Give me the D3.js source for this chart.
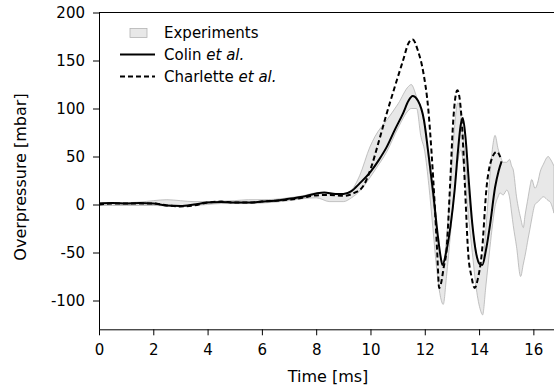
<!DOCTYPE html>
<html>
<head>
<meta charset="utf-8">
<script src="https://cdn.jsdelivr.net/npm/d3@7"></script>
<style>
  body { margin: 0; background: #fff; }
  svg { display: block; }
  text { font-family: "DejaVu Sans", sans-serif; fill: #000; }
</style>
</head>
<body>
<div id="svganchor"></div>
<script>
// --- data ---
let expT = [0, 0.5, 1, 1.5, 2, 2.5, 3, 3.5, 4, 4.5, 5, 5.5, 6, 6.5, 7, 7.5, 8, 8.5, 9, 9.3, 9.6, 9.98, 10.17, 10.6, 11.02, 11.4, 11.5, 11.7, 11.85, 12.0, 12.15, 12.3, 12.45, 12.57, 12.68, 12.8, 12.95, 13.08, 13.22, 13.32, 13.45, 13.6, 13.75, 13.9, 14.05, 14.13, 14.25, 14.4, 14.5, 14.59, 14.7, 14.77, 14.89, 15.02, 15.12, 15.2, 15.26, 15.38, 15.53, 15.63, 15.69, 15.81, 15.87, 15.94, 16.06, 16.18, 16.24, 16.37, 16.55, 16.61, 16.76];
let expLow = [-1, -1, -1, -1, -1, -1.5, -2, -1, 0, 1, 1, 1, 1.5, 2.5, 4, 6, 7, 3, 3, 7, 14, 28, 36, 55, 80, 98, 100, 100, 72, 55, 20, -25, -70, -95, -104, -75, -30, 10, 45, 57, 35, -10, -50, -88, -110, -115, -85, -45, -20, -2, 8, 12, 10, 15, 8, -9, -22, -44, -75, -62, -54, -35, -26, -15, 0, 3, 5, 8, 4, 3, -9];
let expHigh = [2, 2, 2, 2.5, 4, 5, 4, 3, 3, 3.5, 4, 5, 5, 5.5, 7, 9, 12, 12, 11, 15, 30, 60, 71, 88, 105, 123, 125, 112, 100, 80, 45, 5, -30, -52, -60, -35, 20, 75, 106, 95, 60, 15, -22, -50, -60, -60, -25, 30, 60, 72, 58, 52, 44, 44, 47, 40, 36, 8, -14, -24, -12, 8, 18, 26, 17, 25, 33, 42, 50, 48, 40];

let colinT = [0, 0.5, 1, 1.5, 2, 2.5, 3, 3.5, 4, 4.5, 5, 5.5, 6, 6.5, 7, 7.5, 8, 8.3, 8.7, 9.0, 9.3, 9.6, 10, 10.3, 10.6, 10.9, 11.2, 11.4, 11.55, 11.75, 11.97, 12.13, 12.31, 12.47, 12.57, 12.65, 12.8, 12.95, 13.1, 13.22, 13.32, 13.4, 13.5, 13.62, 13.75, 13.9, 14.02, 14.12, 14.25, 14.4, 14.59, 14.72, 14.83];
let colinV = [1, 1.5, 1, 1.5, 1, -1, -1.5, 0, 2, 2.5, 2, 2, 3, 4, 6, 8, 11.5, 12.5, 11, 11, 14, 22, 34, 46, 60, 78, 95, 108, 113, 108, 88, 54, 12, -30, -52, -63, -48, -22, 15, 55, 82, 90, 70, 25, -20, -52, -62, -63, -48, -22, 18, 35, 45];

let charT = [0, 0.5, 1, 1.5, 2, 2.5, 3, 3.5, 4, 4.5, 5, 5.5, 6, 6.5, 7, 7.5, 8, 8.5, 9.0, 9.4, 9.73, 10.04, 10.29, 10.6, 10.9, 11.21, 11.4, 11.55, 11.75, 11.95, 12.13, 12.25, 12.37, 12.46, 12.53, 12.6, 12.7, 12.8, 12.93, 13.05, 13.2, 13.36, 13.48, 13.6, 13.72, 13.84, 13.95, 14.1, 14.28, 14.46, 14.65, 14.8];
let charV = [0, 1, 1, 1, 1, -1, -2, -1, 2, 3, 2, 2, 3, 4, 5, 7, 9.5, 10, 9, 12, 19, 40, 64, 95, 123, 151, 168, 172, 160, 137, 99, 54, -2, -51, -87, -82, -65, -48, 19, 88, 119, 88, 19, -51, -75, -87, -78, -51, 19, 47, 55, 48];

let xTicks = [0, 2, 4, 6, 8, 10, 12, 14, 16];
let yTicks = [-100, -50, 0, 50, 100, 150, 200];

let width = 554;
let height = 390;
let margin = { top: 12.5, right: 0, bottom: 60.7, left: 99 };

let svg = d3.select("#svganchor").append("svg").attr("width", width).attr("height", height);

let xScale = d3.scaleLinear().domain([0, 16.76]).range([margin.left, width - margin.right]);
let yScale = d3.scaleLinear().domain([-130, 200]).range([height - margin.bottom, margin.top]);

svg.append("clipPath").attr("id", "plotclip")
  .append("rect")
  .attr("x", margin.left)
  .attr("y", margin.top)
  .attr("width", width - margin.left - margin.right)
  .attr("height", height - margin.top - margin.bottom);

let plot = svg.append("g").attr("clip-path", "url(#plotclip)");

// Experiments band
let band = expT.map(function (t, i) {
  return { t: t, lo: expLow[i], hi: expHigh[i] };
});
let area = d3.area()
  .x(function (d) { return xScale(d.t); })
  .y0(function (d) { return yScale(d.lo); })
  .y1(function (d) { return yScale(d.hi); })
  .curve(d3.curveMonotoneX);

plot.append("path")
  .datum(band)
  .attr("d", area)
  .attr("fill", "#e8e8e8")
  .attr("stroke", "#b3b3b3")
  .attr("stroke-width", 0.8);

let line = d3.line()
  .x(function (d) { return xScale(d[0]); })
  .y(function (d) { return yScale(d[1]); })
  .curve(d3.curveMonotoneX);

plot.append("path")
  .datum(d3.zip(charT, charV))
  .attr("d", line)
  .attr("fill", "none")
  .attr("stroke", "#000")
  .attr("stroke-width", 2)
  .attr("stroke-dasharray", "5,3");

plot.append("path")
  .datum(d3.zip(colinT, colinV))
  .attr("d", line)
  .attr("fill", "none")
  .attr("stroke", "#000")
  .attr("stroke-width", 2);

// axes
let xAxis = d3.axisBottom(xScale).tickValues(xTicks).tickSize(6).tickSizeOuter(0).tickPadding(9);
let yAxis = d3.axisLeft(yScale).tickValues(yTicks).tickSize(6).tickSizeOuter(0).tickPadding(8)
  .tickFormat(function (d) { return String(d); });

let gx = svg.append("g")
  .attr("transform", "translate(0," + (height - margin.bottom) + ")")
  .call(xAxis);
let gy = svg.append("g")
  .attr("transform", "translate(" + margin.left + ",0)")
  .call(yAxis);

[gx, gy].forEach(function (g) {
  g.selectAll("text").style("font-size", "15px").style("font-family", "DejaVu Sans, sans-serif").attr("fill", "#000");
  g.selectAll("line, path").attr("stroke", "#000");
});

// top frame line
svg.append("line")
  .attr("x1", margin.left).attr("x2", width)
  .attr("y1", margin.top).attr("y2", margin.top)
  .attr("stroke", "#000");

// axis titles
svg.append("text")
  .attr("x", 328)
  .attr("y", 382)
  .attr("text-anchor", "middle")
  .style("font-size", "16px")
  .text("Time [ms]");

svg.append("text")
  .attr("transform", "translate(26,177) rotate(-90)")
  .attr("text-anchor", "middle")
  .style("font-size", "16px")
  .text("Overpressure [mbar]");

// legend
let legend = svg.append("g");
legend.append("rect")
  .attr("x", 130).attr("y", 28.5)
  .attr("width", 17).attr("height", 9)
  .attr("fill", "#e8e8e8")
  .attr("stroke", "#b3b3b3")
  .attr("stroke-width", 0.8);
legend.append("text").attr("x", 164).attr("y", 38).style("font-size", "15px").text("Experiments");

legend.append("line")
  .attr("x1", 120).attr("x2", 155).attr("y1", 54.5).attr("y2", 54.5)
  .attr("stroke", "#000").attr("stroke-width", 2);
let t2 = legend.append("text").attr("x", 164).attr("y", 59.5).style("font-size", "15px");
t2.append("tspan").text("Colin ");
t2.append("tspan").style("font-style", "italic").text("et al.");

legend.append("line")
  .attr("x1", 120).attr("x2", 155).attr("y1", 76.5).attr("y2", 76.5)
  .attr("stroke", "#000").attr("stroke-width", 2)
  .attr("stroke-dasharray", "5,3");
let t3 = legend.append("text").attr("x", 164).attr("y", 81.5).style("font-size", "15px");
t3.append("tspan").text("Charlette ");
t3.append("tspan").style("font-style", "italic").text("et al.");
</script>
</body>
</html>
